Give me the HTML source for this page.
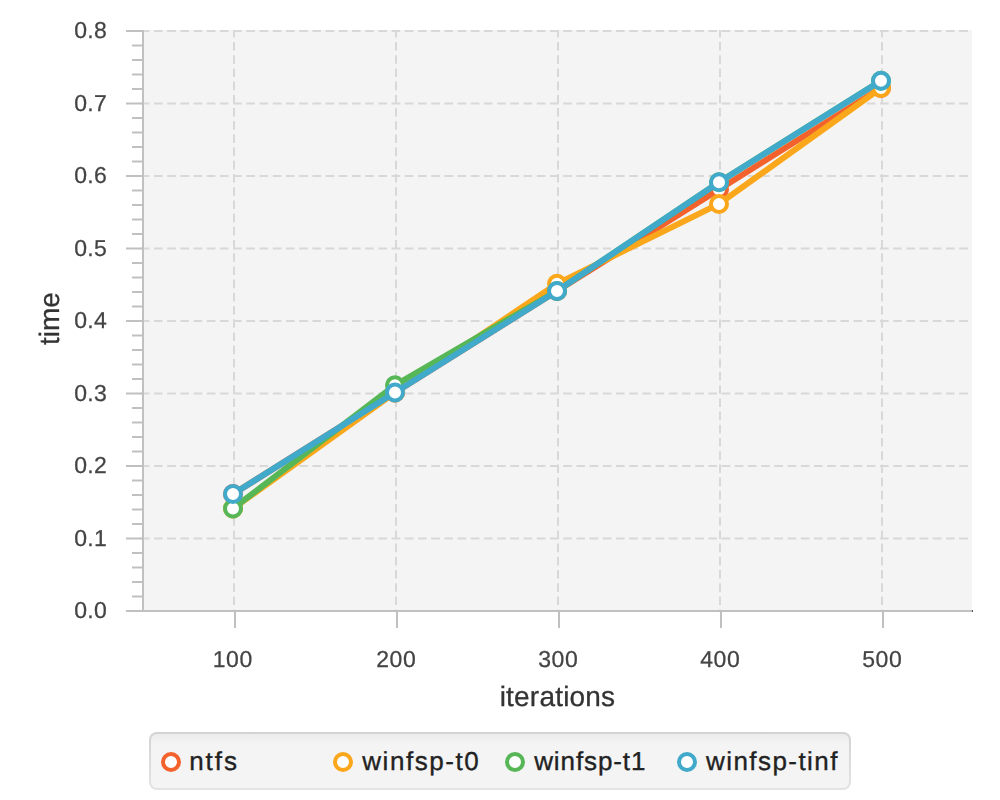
<!DOCTYPE html><html><head><meta charset="utf-8"><style>
html,body{margin:0;padding:0;background:#fff;width:1000px;height:800px;overflow:hidden}
svg{display:block;position:absolute;left:0;top:0}svg.main{will-change:transform}svg.leg{top:730px}
text{font-family:"Liberation Sans",sans-serif;text-rendering:geometricPrecision}
</style></head><body>
<svg class="main" width="1000" height="730" viewBox="0 0 1000 730">
<rect x="143" y="30" width="829" height="581" fill="#f4f4f4"/>
<line x1="140.8" y1="538.50" x2="972" y2="538.50" stroke="#d8d8d8" stroke-width="2" stroke-dasharray="8.6 4.6"/>
<line x1="140.8" y1="466.00" x2="972" y2="466.00" stroke="#d8d8d8" stroke-width="2" stroke-dasharray="8.6 4.6"/>
<line x1="140.8" y1="393.50" x2="972" y2="393.50" stroke="#d8d8d8" stroke-width="2" stroke-dasharray="8.6 4.6"/>
<line x1="140.8" y1="321.00" x2="972" y2="321.00" stroke="#d8d8d8" stroke-width="2" stroke-dasharray="8.6 4.6"/>
<line x1="140.8" y1="248.50" x2="972" y2="248.50" stroke="#d8d8d8" stroke-width="2" stroke-dasharray="8.6 4.6"/>
<line x1="140.8" y1="176.00" x2="972" y2="176.00" stroke="#d8d8d8" stroke-width="2" stroke-dasharray="8.6 4.6"/>
<line x1="140.8" y1="103.50" x2="972" y2="103.50" stroke="#d8d8d8" stroke-width="2" stroke-dasharray="8.6 4.6"/>
<line x1="140.8" y1="31.00" x2="972" y2="31.00" stroke="#d8d8d8" stroke-width="2" stroke-dasharray="8.6 4.6"/>
<line x1="234" y1="28.8" x2="234" y2="610" stroke="#d8d8d8" stroke-width="2" stroke-dasharray="8.6 4.6"/>
<line x1="396" y1="28.8" x2="396" y2="610" stroke="#d8d8d8" stroke-width="2" stroke-dasharray="8.6 4.6"/>
<line x1="558" y1="28.8" x2="558" y2="610" stroke="#d8d8d8" stroke-width="2" stroke-dasharray="8.6 4.6"/>
<line x1="720" y1="28.8" x2="720" y2="610" stroke="#d8d8d8" stroke-width="2" stroke-dasharray="8.6 4.6"/>
<line x1="882" y1="28.8" x2="882" y2="610" stroke="#d8d8d8" stroke-width="2" stroke-dasharray="8.6 4.6"/>
<rect x="0" y="0" width="1000" height="30" fill="#fff"/>
<rect x="972" y="0" width="28" height="611" fill="#fff"/>
<line x1="143" y1="30" x2="143" y2="612" stroke="#c0c0c0" stroke-width="2"/>
<line x1="126" y1="611" x2="972" y2="611" stroke="#c0c0c0" stroke-width="2"/>
<rect x="972" y="610" width="1" height="2" fill="#555"/>
<line x1="126" y1="611.00" x2="143" y2="611.00" stroke="#c0c0c0" stroke-width="2"/>
<line x1="132" y1="596.50" x2="143" y2="596.50" stroke="#c0c0c0" stroke-width="2"/>
<line x1="132" y1="582.00" x2="143" y2="582.00" stroke="#c0c0c0" stroke-width="2"/>
<line x1="132" y1="567.50" x2="143" y2="567.50" stroke="#c0c0c0" stroke-width="2"/>
<line x1="132" y1="553.00" x2="143" y2="553.00" stroke="#c0c0c0" stroke-width="2"/>
<line x1="126" y1="538.50" x2="143" y2="538.50" stroke="#c0c0c0" stroke-width="2"/>
<line x1="132" y1="524.00" x2="143" y2="524.00" stroke="#c0c0c0" stroke-width="2"/>
<line x1="132" y1="509.50" x2="143" y2="509.50" stroke="#c0c0c0" stroke-width="2"/>
<line x1="132" y1="495.00" x2="143" y2="495.00" stroke="#c0c0c0" stroke-width="2"/>
<line x1="132" y1="480.50" x2="143" y2="480.50" stroke="#c0c0c0" stroke-width="2"/>
<line x1="126" y1="466.00" x2="143" y2="466.00" stroke="#c0c0c0" stroke-width="2"/>
<line x1="132" y1="451.50" x2="143" y2="451.50" stroke="#c0c0c0" stroke-width="2"/>
<line x1="132" y1="437.00" x2="143" y2="437.00" stroke="#c0c0c0" stroke-width="2"/>
<line x1="132" y1="422.50" x2="143" y2="422.50" stroke="#c0c0c0" stroke-width="2"/>
<line x1="132" y1="408.00" x2="143" y2="408.00" stroke="#c0c0c0" stroke-width="2"/>
<line x1="126" y1="393.50" x2="143" y2="393.50" stroke="#c0c0c0" stroke-width="2"/>
<line x1="132" y1="379.00" x2="143" y2="379.00" stroke="#c0c0c0" stroke-width="2"/>
<line x1="132" y1="364.50" x2="143" y2="364.50" stroke="#c0c0c0" stroke-width="2"/>
<line x1="132" y1="350.00" x2="143" y2="350.00" stroke="#c0c0c0" stroke-width="2"/>
<line x1="132" y1="335.50" x2="143" y2="335.50" stroke="#c0c0c0" stroke-width="2"/>
<line x1="126" y1="321.00" x2="143" y2="321.00" stroke="#c0c0c0" stroke-width="2"/>
<line x1="132" y1="306.50" x2="143" y2="306.50" stroke="#c0c0c0" stroke-width="2"/>
<line x1="132" y1="292.00" x2="143" y2="292.00" stroke="#c0c0c0" stroke-width="2"/>
<line x1="132" y1="277.50" x2="143" y2="277.50" stroke="#c0c0c0" stroke-width="2"/>
<line x1="132" y1="263.00" x2="143" y2="263.00" stroke="#c0c0c0" stroke-width="2"/>
<line x1="126" y1="248.50" x2="143" y2="248.50" stroke="#c0c0c0" stroke-width="2"/>
<line x1="132" y1="234.00" x2="143" y2="234.00" stroke="#c0c0c0" stroke-width="2"/>
<line x1="132" y1="219.50" x2="143" y2="219.50" stroke="#c0c0c0" stroke-width="2"/>
<line x1="132" y1="205.00" x2="143" y2="205.00" stroke="#c0c0c0" stroke-width="2"/>
<line x1="132" y1="190.50" x2="143" y2="190.50" stroke="#c0c0c0" stroke-width="2"/>
<line x1="126" y1="176.00" x2="143" y2="176.00" stroke="#c0c0c0" stroke-width="2"/>
<line x1="132" y1="161.50" x2="143" y2="161.50" stroke="#c0c0c0" stroke-width="2"/>
<line x1="132" y1="147.00" x2="143" y2="147.00" stroke="#c0c0c0" stroke-width="2"/>
<line x1="132" y1="132.50" x2="143" y2="132.50" stroke="#c0c0c0" stroke-width="2"/>
<line x1="132" y1="118.00" x2="143" y2="118.00" stroke="#c0c0c0" stroke-width="2"/>
<line x1="126" y1="103.50" x2="143" y2="103.50" stroke="#c0c0c0" stroke-width="2"/>
<line x1="132" y1="89.00" x2="143" y2="89.00" stroke="#c0c0c0" stroke-width="2"/>
<line x1="132" y1="74.50" x2="143" y2="74.50" stroke="#c0c0c0" stroke-width="2"/>
<line x1="132" y1="60.00" x2="143" y2="60.00" stroke="#c0c0c0" stroke-width="2"/>
<line x1="132" y1="45.50" x2="143" y2="45.50" stroke="#c0c0c0" stroke-width="2"/>
<line x1="126" y1="31.00" x2="143" y2="31.00" stroke="#c0c0c0" stroke-width="2"/>
<line x1="235" y1="611" x2="235" y2="628" stroke="#c0c0c0" stroke-width="2"/>
<line x1="397" y1="611" x2="397" y2="628" stroke="#c0c0c0" stroke-width="2"/>
<line x1="559" y1="611" x2="559" y2="628" stroke="#c0c0c0" stroke-width="2"/>
<line x1="721" y1="611" x2="721" y2="628" stroke="#c0c0c0" stroke-width="2"/>
<line x1="883" y1="611" x2="883" y2="628" stroke="#c0c0c0" stroke-width="2"/>
<text transform="translate(107,618.10) scale(1,1.0)" stroke="#444" stroke-width="0.25" text-anchor="end" font-size="23.0" fill="#444" letter-spacing="0.3">0.0</text>
<text transform="translate(107,545.60) scale(1,1.0)" stroke="#444" stroke-width="0.25" text-anchor="end" font-size="23.0" fill="#444" letter-spacing="0.3">0.1</text>
<text transform="translate(107,473.10) scale(1,1.0)" stroke="#444" stroke-width="0.25" text-anchor="end" font-size="23.0" fill="#444" letter-spacing="0.3">0.2</text>
<text transform="translate(107,400.60) scale(1,1.0)" stroke="#444" stroke-width="0.25" text-anchor="end" font-size="23.0" fill="#444" letter-spacing="0.3">0.3</text>
<text transform="translate(107,328.10) scale(1,1.0)" stroke="#444" stroke-width="0.25" text-anchor="end" font-size="23.0" fill="#444" letter-spacing="0.3">0.4</text>
<text transform="translate(107,255.60) scale(1,1.0)" stroke="#444" stroke-width="0.25" text-anchor="end" font-size="23.0" fill="#444" letter-spacing="0.3">0.5</text>
<text transform="translate(107,183.10) scale(1,1.0)" stroke="#444" stroke-width="0.25" text-anchor="end" font-size="23.0" fill="#444" letter-spacing="0.3">0.6</text>
<text transform="translate(107,110.60) scale(1,1.0)" stroke="#444" stroke-width="0.25" text-anchor="end" font-size="23.0" fill="#444" letter-spacing="0.3">0.7</text>
<text transform="translate(107,38.10) scale(1,1.0)" stroke="#444" stroke-width="0.25" text-anchor="end" font-size="23.0" fill="#444" letter-spacing="0.3">0.8</text>
<text transform="translate(232.8,667.3) scale(1,1.0)" stroke="#444" stroke-width="0.25" text-anchor="middle" font-size="23.0" fill="#444" letter-spacing="0.6">100</text>
<text transform="translate(396.3,667.3) scale(1,1.0)" stroke="#444" stroke-width="0.25" text-anchor="middle" font-size="23.0" fill="#444" letter-spacing="0.6">200</text>
<text transform="translate(558.3,667.3) scale(1,1.0)" stroke="#444" stroke-width="0.25" text-anchor="middle" font-size="23.0" fill="#444" letter-spacing="0.6">300</text>
<text transform="translate(720.3,667.3) scale(1,1.0)" stroke="#444" stroke-width="0.25" text-anchor="middle" font-size="23.0" fill="#444" letter-spacing="0.6">400</text>
<text transform="translate(882.3,667.3) scale(1,1.0)" stroke="#444" stroke-width="0.25" text-anchor="middle" font-size="23.0" fill="#444" letter-spacing="0.6">500</text>
<text x="557.5" y="705.5" text-anchor="middle" font-size="28" fill="#333" stroke="#333" stroke-width="0.3" letter-spacing="0.2">iterations</text>
<text transform="translate(59,318.5) rotate(-90)" text-anchor="middle" font-size="28" fill="#333" stroke="#333" stroke-width="0.3">time</text>
<polyline points="233.00,494.00 395.00,392.50 557.00,291.00 719.00,189.50 881.00,88.00" fill="none" stroke="#f3622d" stroke-width="6" stroke-linejoin="miter" stroke-linecap="butt"/>
<circle cx="233.00" cy="494.00" r="8" fill="#fff" stroke="#f3622d" stroke-width="4"/>
<circle cx="395.00" cy="392.50" r="8" fill="#fff" stroke="#f3622d" stroke-width="4"/>
<circle cx="557.00" cy="291.00" r="8" fill="#fff" stroke="#f3622d" stroke-width="4"/>
<circle cx="719.00" cy="189.50" r="8" fill="#fff" stroke="#f3622d" stroke-width="4"/>
<circle cx="881.00" cy="88.00" r="8" fill="#fff" stroke="#f3622d" stroke-width="4"/>
<polyline points="233.00,508.50 395.00,392.50 557.00,283.75 719.00,204.00 881.00,88.00" fill="none" stroke="#fba71b" stroke-width="6" stroke-linejoin="miter" stroke-linecap="butt"/>
<circle cx="233.00" cy="508.50" r="8" fill="#fff" stroke="#fba71b" stroke-width="4"/>
<circle cx="395.00" cy="392.50" r="8" fill="#fff" stroke="#fba71b" stroke-width="4"/>
<circle cx="557.00" cy="283.75" r="8" fill="#fff" stroke="#fba71b" stroke-width="4"/>
<circle cx="719.00" cy="204.00" r="8" fill="#fff" stroke="#fba71b" stroke-width="4"/>
<circle cx="881.00" cy="88.00" r="8" fill="#fff" stroke="#fba71b" stroke-width="4"/>
<polyline points="233.00,508.50 395.00,385.25 557.00,291.00 719.00,182.25 881.00,80.75" fill="none" stroke="#57b757" stroke-width="6" stroke-linejoin="miter" stroke-linecap="butt"/>
<circle cx="233.00" cy="508.50" r="8" fill="#fff" stroke="#57b757" stroke-width="4"/>
<circle cx="395.00" cy="385.25" r="8" fill="#fff" stroke="#57b757" stroke-width="4"/>
<circle cx="557.00" cy="291.00" r="8" fill="#fff" stroke="#57b757" stroke-width="4"/>
<circle cx="719.00" cy="182.25" r="8" fill="#fff" stroke="#57b757" stroke-width="4"/>
<circle cx="881.00" cy="80.75" r="8" fill="#fff" stroke="#57b757" stroke-width="4"/>
<polyline points="233.00,494.00 395.00,392.50 557.00,291.00 719.00,182.25 881.00,80.75" fill="none" stroke="#41a9c9" stroke-width="6" stroke-linejoin="miter" stroke-linecap="butt"/>
<circle cx="233.00" cy="494.00" r="8" fill="#fff" stroke="#41a9c9" stroke-width="4"/>
<circle cx="395.00" cy="392.50" r="8" fill="#fff" stroke="#41a9c9" stroke-width="4"/>
<circle cx="557.00" cy="291.00" r="8" fill="#fff" stroke="#41a9c9" stroke-width="4"/>
<circle cx="719.00" cy="182.25" r="8" fill="#fff" stroke="#41a9c9" stroke-width="4"/>
<circle cx="881.00" cy="80.75" r="8" fill="#fff" stroke="#41a9c9" stroke-width="4"/>
</svg>
<svg class="leg" width="1000" height="70" viewBox="0 730 1000 70">
<defs><linearGradient id="lgb" x1="0" y1="0" x2="0" y2="1"><stop offset="0" stop-color="#d3d3d3"/><stop offset="1" stop-color="#e4e4e4"/></linearGradient>
<linearGradient id="lgi" gradientUnits="userSpaceOnUse" x1="0" y1="734" x2="0" y2="744"><stop offset="0" stop-color="#ececec"/><stop offset="1" stop-color="#f4f4f4"/></linearGradient></defs>
<rect x="149" y="732" width="702" height="58" rx="8" fill="url(#lgb)"/>
<rect x="151" y="734" width="698" height="54" rx="6" fill="url(#lgi)"/>
<circle cx="171" cy="762" r="8" fill="#fff" stroke="#f3622d" stroke-width="4"/>
<text x="189.2" y="770" font-size="26" fill="#222" stroke="#222" stroke-width="0.35" letter-spacing="1.93">ntfs</text>
<circle cx="343" cy="762" r="8" fill="#fff" stroke="#fba71b" stroke-width="4"/>
<text x="362.3" y="770" font-size="26" fill="#222" stroke="#222" stroke-width="0.35" letter-spacing="1.55">winfsp-t0</text>
<circle cx="515" cy="762" r="8" fill="#fff" stroke="#57b757" stroke-width="4"/>
<text x="534.2" y="770" font-size="26" fill="#222" stroke="#222" stroke-width="0.35" letter-spacing="0.9">winfsp-t1</text>
<circle cx="687" cy="762" r="8" fill="#fff" stroke="#41a9c9" stroke-width="4"/>
<text x="706" y="770" font-size="26" fill="#222" stroke="#222" stroke-width="0.35" letter-spacing="1.44">winfsp-tinf</text>
</svg></body></html>
